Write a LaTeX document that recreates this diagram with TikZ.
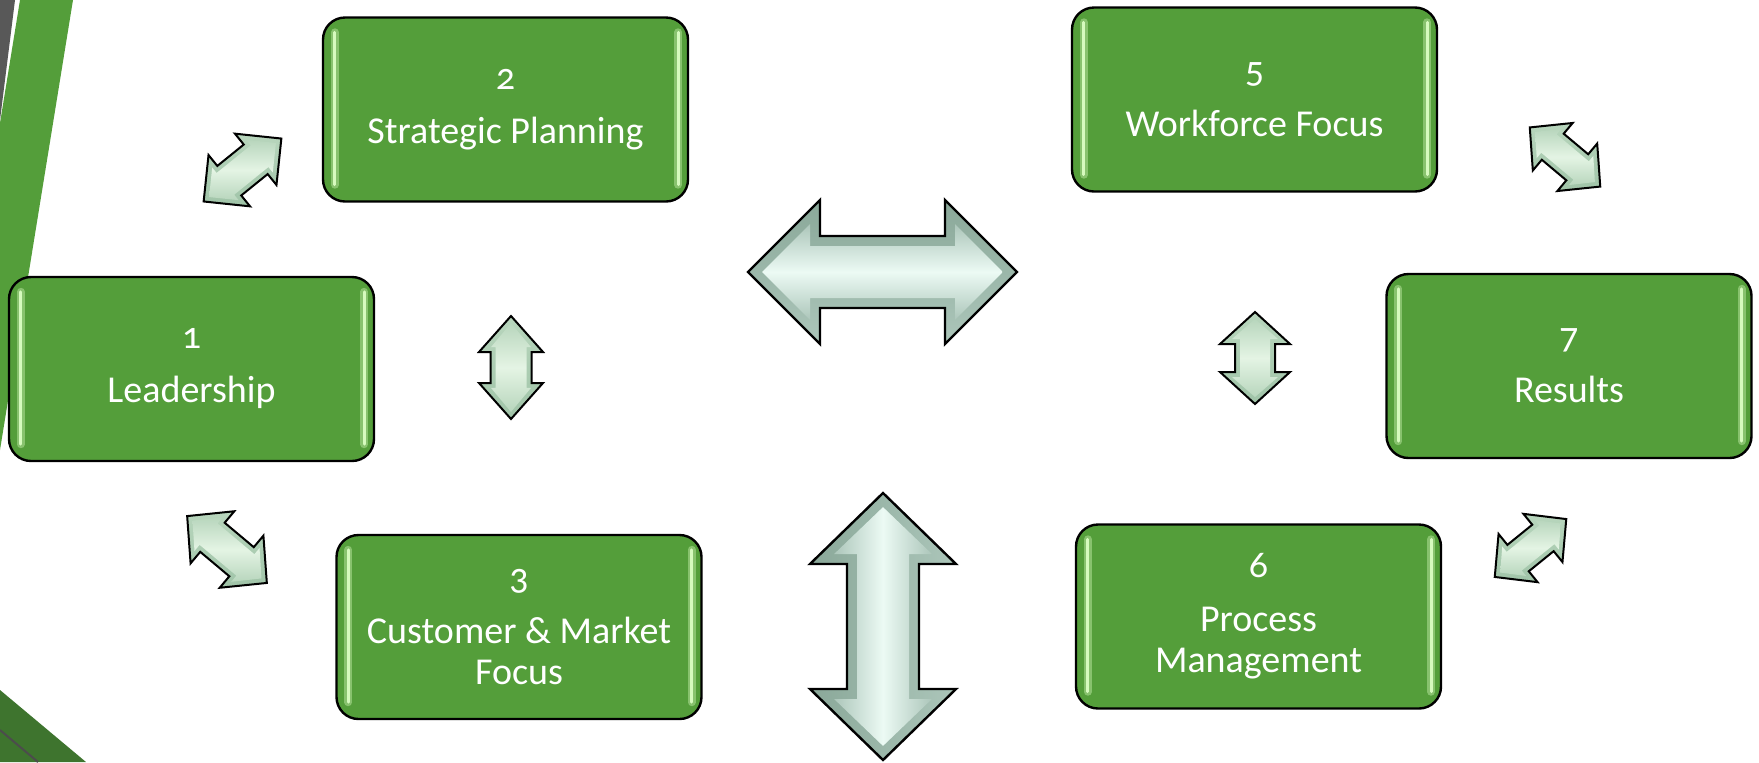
\documentclass[tikz,border=0pt]{standalone}
\usepackage{fontspec}
\setmainfont{Carlito}[Numbers=OldStyle]
\usepackage{tikz}

\definecolor{boxgreen}{RGB}{84,158,58}
\definecolor{stripegreen}{RGB}{62,116,46}
\definecolor{stripegray}{RGB}{88,88,88}
\definecolor{glowgreen}{RGB}{214,250,190}
\definecolor{mintdark}{RGB}{138,168,153}
\definecolor{mintlo}{RGB}{172,198,186}
\definecolor{minthi}{RGB}{236,250,244}
\definecolor{leafdark}{RGB}{160,196,168}
\definecolor{leaflo}{RGB}{184,214,189}
\definecolor{leafhi}{RGB}{228,244,228}

% double headed arrow: half length, head length, head half width, shaft half width
\newcommand{\twoway}[4]{(-#1,0) -- (#2-#1,#3) -- (#2-#1,#4) -- (#1-#2,#4) -- (#1-#2,#3) -- (#1,0) -- (#1-#2,-#3) -- (#1-#2,-#4) -- (#2-#1,-#4) -- (#2-#1,-#3) -- cycle}

\begin{document}
\begin{tikzpicture}[x=0.5pt,y=0.5pt,
  box/.style={draw=black, line width=1.2pt, fill=boxgreen, rounded corners=11pt,
    minimum width=182.5pt, minimum height=92pt, text=white, align=center,
    font=\fontsize{19}{20.5}\selectfont},
  halo/.style={line cap=round, line width=4pt, draw=glowgreen, opacity=0.4},
  glow/.style={line cap=round, line width=1.5pt, draw=glowgreen},
  bigarrow/.style={draw=black, line width=1.2pt, top color=mintdark, bottom color=mintlo},
  bigcore/.style={top color=mintlo, bottom color=mintlo, middle color=minthi},
  smallarrow/.style={draw=black, line width=1pt, top color=leaflo, bottom color=leafdark},
  smallcore/.style={top color=leaflo, bottom color=leaflo, middle color=leafhi}]
\useasboundingbox (0,0) rectangle (1759,-762);

% Slanted stripes on the left edge
\fill[stripegray] (0,0) -- (15,0) -- (0,-120) -- cycle;
\fill[boxgreen] (20,0) -- (73,0) -- (0,-450) -- (0,-123) -- cycle;
\fill[stripegreen] (0,-690) -- (86,-762) -- (0,-762) -- cycle;
\draw[black!70, line width=1pt] (0,-730) -- (38,-762);

% Category boxes
\node[box] (b1) at (191.5,-369) {1\\[6.5pt]Leadership};
\node[box] (b2) at (505.5,-109.5) {2\\[6.5pt]Strategic Planning};
\node[box] (b3) at (519,-627) {3\\[6.5pt]Customer \& Market\\Focus};
\node[box] (b5) at (1254.5,-99.5) {5\\[6.5pt]Workforce Focus};
\node[box] (b6) at (1258.5,-616.5) {6\\[6.5pt]Process\\Management};
\node[box] (b7) at (1569,-366) {7\\[6.5pt]Results};

% Light strips inside the boxes
\foreach \b in {b1,b2,b3,b5,b6,b7} {
  \draw[halo] ([shift={(6.5pt,-8pt)}]\b.north west) -- ([shift={(6.5pt,9pt)}]\b.south west);
  \draw[glow] ([shift={(6.5pt,-8pt)}]\b.north west) -- ([shift={(6.5pt,9pt)}]\b.south west);
  \draw[halo] ([shift={(-5.5pt,-8pt)}]\b.north east) -- ([shift={(-5.5pt,9pt)}]\b.south east);
  \draw[glow] ([shift={(-5.5pt,-8pt)}]\b.north east) -- ([shift={(-5.5pt,9pt)}]\b.south east);
}

% Big arrows in the middle
\shadedraw[bigarrow, shift={(882.5,-272)}] \twoway{134.5}{72}{72}{36};
\shade[bigcore, shift={(882.5,-272)}] \twoway{120.4}{47.9}{47.9}{26};
\shadedraw[bigarrow, shading angle=90, shift={(883,-626.5)}, rotate=90] \twoway{133.5}{71}{73}{36};
\shade[bigcore, shading angle=90, shift={(883,-626.5)}, rotate=90] \twoway{119.4}{46.9}{48.9}{26};

% Small arrows between the boxes
\shadedraw[smallarrow, shift={(511,-367.5)}, rotate=90] \twoway{51.5}{36}{32}{20.5};
\shade[smallcore, shift={(511,-367.5)}, rotate=90] \twoway{44.4}{24}{20}{15.5};
\shadedraw[smallarrow, shift={(1255,-358)}, rotate=90] \twoway{46}{32}{35}{20};
\shade[smallcore, shift={(1255,-358)}, rotate=90] \twoway{39}{20}{23}{15};
\shadedraw[smallarrow, shift={(242.5,-170)}, rotate=39] \twoway{50}{33}{33}{19};
\shade[smallcore, shift={(242.5,-170)}, rotate=39] \twoway{43}{21}{21}{14};
\shadedraw[smallarrow, shift={(227,-549.5)}, rotate=-40] \twoway{52}{33}{34}{19};
\shade[smallcore, shift={(227,-549.5)}, rotate=-40] \twoway{45}{21}{22}{14};
\shadedraw[smallarrow, shift={(1565,-157)}, rotate=-40] \twoway{46}{30}{31}{17};
\shade[smallcore, shift={(1565,-157)}, rotate=-40] \twoway{39}{18}{19}{12};
\shadedraw[smallarrow, shift={(1530.5,-548)}, rotate=39] \twoway{46}{30}{31}{17};
\shade[smallcore, shift={(1530.5,-548)}, rotate=39] \twoway{39}{18}{19}{12};
\end{tikzpicture}
\end{document}
